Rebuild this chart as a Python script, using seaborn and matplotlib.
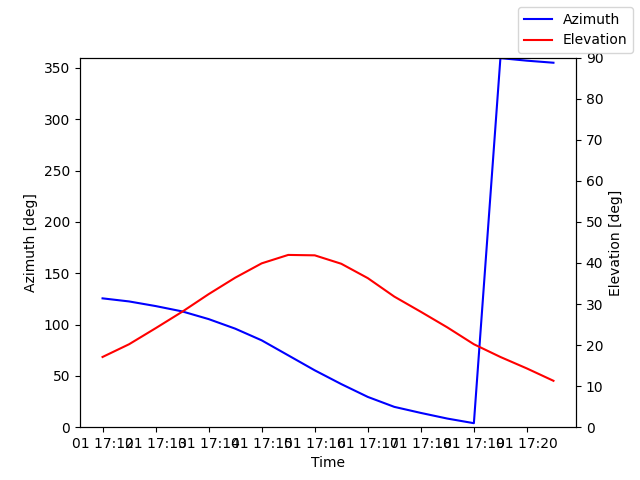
import pandas as pd
import seaborn as sns
import matplotlib.pyplot as plt

# time samples, every 30 s
times = pd.date_range('2024-03-01 17:12:00', periods=18, freq='30s')

azimuth = [125.5, 122.5, 118.0, 112.8, 105.3, 96.0, 84.6, 70.0, 55.4,
           42.0, 29.5, 19.8, 13.9, 8.4, 3.9, 359.5, 357.0, 355.0]
elevation = [17.1, 20.2, 24.1, 28.1, 32.4, 36.4, 39.9, 41.95, 41.85,
             39.8, 36.3, 31.8, 28.1, 24.3, 20.2, 17.1, 14.3, 11.3]

df = pd.DataFrame({'time': times, 'azimuth': azimuth, 'elevation': elevation})

fig, ax1 = plt.subplots(figsize=(6.4, 4.8), dpi=100)
ax2 = ax1.twinx()

sns.lineplot(data=df, x='time', y='azimuth', ax=ax1, color='blue', label='Azimuth', legend=False)
sns.lineplot(data=df, x='time', y='elevation', ax=ax2, color='red', label='Elevation', legend=False)

ax1.set_ylim(0, 360)
ax2.set_ylim(0, 90)
ax1.set_xlabel('Time')
ax1.set_ylabel('Azimuth [deg]')
ax2.set_ylabel('Elevation [deg]')

fig.legend()
fig.savefig('out.png')
